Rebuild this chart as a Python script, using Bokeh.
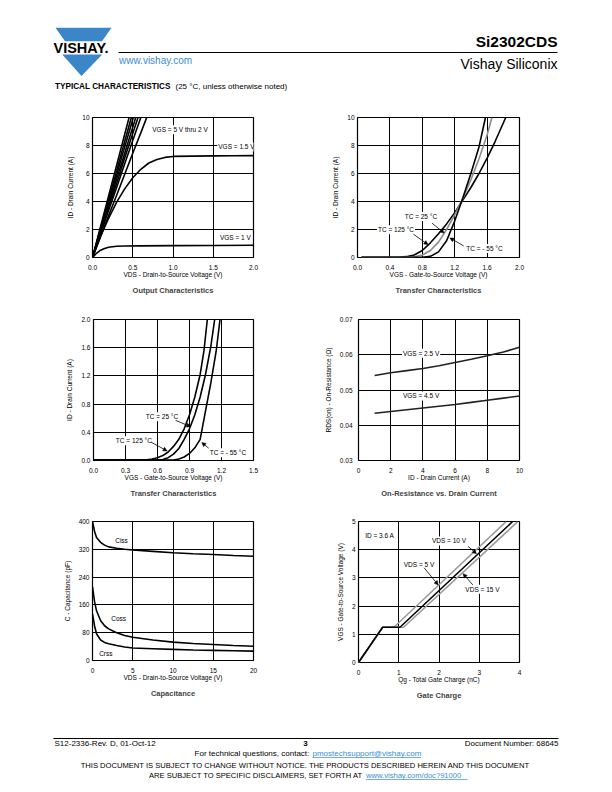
from bokeh.plotting import figure
from bokeh.layouts import column, row
from bokeh.models import (Range1d, FixedTicker, PrintfTickFormatter, Label, Arrow,
                          NormalHead, Title)
from bokeh.embed import file_html
from bokeh.resources import INLINE
from bokeh.core.properties import value

FONT = "Liberation Sans"
BLUE = "#3b86c8"
LINK = "#3a8dd6"

# ---------------- data ----------------
# Output characteristics (ID vs VDS)
out_vds_lin = [0, 0.1, 0.2, 0.3, 0.4, 0.5, 0.6, 0.7]
out_id_5v = [0, 2.2, 4.4, 6.6, 8.8, 11.0, 13.2, 15.4]
out_id_45v = [0, 2.1, 4.15, 6.2, 8.3, 10.35, 12.4, 14.5]
out_id_4v = [0, 2.0, 3.95, 5.9, 7.9, 9.85, 11.8, 13.8]
out_id_35v = [0, 1.9, 3.75, 5.6, 7.45, 9.3, 11.2, 13.0]
out_id_3v = [0, 1.8, 3.55, 5.3, 7.1, 8.85, 10.6, 12.4]
out_id_25v = [0, 1.7, 3.35, 5.0, 6.7, 8.35, 10.0, 11.7]
out_id_2v = [0, 1.5, 3.0, 4.45, 5.95, 7.45, 8.9, 10.4]
out_vds_15 = [0, 0.1, 0.2, 0.3, 0.4, 0.5, 0.6, 0.7, 0.8, 0.9, 1.0, 1.25, 1.5, 1.75, 2.0]
out_id_15v = [0, 1.5, 2.8, 3.95, 4.9, 5.7, 6.3, 6.75, 7.0, 7.15, 7.22, 7.24, 7.26, 7.27, 7.28]
out_vds_1 = [0, 0.05, 0.1, 0.15, 0.2, 0.3, 0.4, 0.6, 1.0, 1.5, 2.0]
out_id_1v = [0, 0.3, 0.52, 0.65, 0.73, 0.8, 0.82, 0.83, 0.85, 0.86, 0.88]

# Transfer characteristics, full scale
tr_vgs_125 = [0.05, 0.5, 0.6, 0.7, 0.8, 0.9, 1.0, 1.1, 1.2, 1.3, 1.4, 1.5, 1.6, 1.7, 1.83]
tr_id_125 = [0.02, 0.02, 0.06, 0.18, 0.5, 1.05, 1.7, 2.4, 3.2, 4.1, 5.0, 6.0, 7.1, 8.3, 10.0]
tr_vgs_25 = [0.05, 0.6, 0.7, 0.8, 0.9, 1.0, 1.1, 1.2, 1.3, 1.4, 1.5, 1.6, 1.66]
tr_id_25 = [0.02, 0.02, 0.05, 0.18, 0.5, 1.1, 2.0, 3.05, 4.2, 5.55, 7.05, 8.75, 10.0]
tr_vgs_m55 = [0.05, 0.8, 0.9, 1.0, 1.1, 1.2, 1.3, 1.4, 1.5, 1.58]
tr_id_m55 = [0.02, 0.02, 0.08, 0.4, 1.2, 2.6, 4.25, 6.0, 7.9, 10.0]

# Transfer characteristics, low current
lo_vgs_125 = [0.0, 0.45, 0.5, 0.55, 0.6, 0.65, 0.7, 0.75, 0.8, 0.85, 0.9, 0.95, 1.0, 1.035, 1.067]
lo_id_125 = [0.005, 0.005, 0.01, 0.02, 0.04, 0.07, 0.12, 0.2, 0.3, 0.45, 0.65, 0.9, 1.22, 1.55, 2.0]
lo_vgs_25 = [0.0, 0.6, 0.65, 0.7, 0.75, 0.8, 0.85, 0.9, 0.95, 1.0, 1.05, 1.1, 1.136]
lo_id_25 = [0.005, 0.005, 0.015, 0.04, 0.09, 0.17, 0.3, 0.45, 0.65, 0.9, 1.22, 1.62, 2.0]
lo_vgs_m55 = [0.0, 0.75, 0.8, 0.85, 0.9, 0.95, 1.0, 1.05, 1.1, 1.15, 1.186]
lo_id_m55 = [0.005, 0.005, 0.02, 0.05, 0.1, 0.18, 0.3, 0.7, 1.1, 1.55, 2.0]

# On-resistance vs drain current
rds_id = [1, 2, 3, 4, 5, 6, 7, 8, 9, 10]
rds_vgs25 = [0.0541, 0.0549, 0.0555, 0.0561, 0.0569, 0.0578, 0.0587, 0.0597, 0.0608, 0.0621]
rds_vgs45 = [0.0434, 0.0439, 0.0444, 0.0449, 0.0454, 0.0459, 0.0465, 0.0471, 0.0477, 0.0483]

# Capacitance
cap_vds = [0, 0.25, 0.5, 1, 1.5, 2, 3, 4, 5, 7.5, 10, 12.5, 15, 17.5, 20]
cap_ciss = [400, 372, 354, 340, 332, 327, 323, 320, 318, 314, 310, 307, 305, 302, 300]
cap_coss = [212, 170, 143, 115, 100, 91, 80, 72, 67, 59, 53, 49, 46, 43, 41]
cap_crss = [134, 100, 77, 59, 52, 48, 43, 39, 36, 34, 32, 30, 29, 28, 27]

# Gate charge
gc_qg_5 = [0, 0.6, 0.88, 3.67]
gc_vgs_5 = [0, 1.25, 1.25, 5.0]
gc_qg_10 = [0, 0.6, 1.03, 3.83]
gc_vgs_10 = [0, 1.25, 1.25, 5.0]
gc_qg_15 = [0, 0.6, 1.12, 3.96]
gc_vgs_15 = [0, 1.25, 1.25, 5.0]

# ticks
t_out_x = [0, 0.5, 1.0, 1.5, 2.0]
t_id10 = [0, 2, 4, 6, 8, 10]
t_tr_x = [0, 0.4, 0.8, 1.2, 1.6, 2.0]
t_lo_x = [0, 0.3, 0.6, 0.9, 1.2, 1.5]
t_lo_y = [0, 0.4, 0.8, 1.2, 1.6, 2.0]
t_rds_x = [0, 2, 4, 6, 8, 10]
t_rds_y = [0.03, 0.04, 0.05, 0.06, 0.07]
t_cap_x = [0, 5, 10, 15, 20]
t_cap_y = [0, 80, 160, 240, 320, 400]
t_gc_x = [0, 1, 2, 3, 4]
t_gc_y = [0, 1, 2, 3, 4, 5]


def chart(xr, yr, xt, yt, xf, yf, xl, yl, title, fw, fh, bl, br, bt, bb, ystand=3):
    p = figure(frame_width=fw, frame_height=fh, x_range=Range1d(*xr), y_range=Range1d(*yr),
               output_backend="svg", toolbar_location=None,
               min_border_left=bl, min_border_right=br, min_border_top=bt, min_border_bottom=bb)
    p.outline_line_color = "black"
    p.outline_line_width = 1.2
    p.outline_line_alpha = 1
    for ax, ticks, fmt, lab in ((p.xaxis[0], xt, xf, xl), (p.yaxis[0], yt, yf, yl)):
        ax.ticker = FixedTicker(ticks=ticks)
        ax.formatter = PrintfTickFormatter(format=fmt)
        ax.axis_line_color = None
        ax.major_tick_line_color = None
        ax.minor_tick_line_color = None
        ax.major_tick_out = 0
        ax.major_tick_in = 0
        ax.minor_tick_out = 0
        ax.minor_tick_in = 0
        ax.major_label_text_font = FONT
        ax.major_label_text_font_size = "6.5px"
        ax.major_label_text_color = "black"
        ax.axis_label = lab
        ax.axis_label_text_font = FONT
        ax.axis_label_text_font_size = "6.5px"
        ax.axis_label_text_font_style = "normal"
        ax.axis_label_text_color = "black"
    p.xaxis.major_label_standoff = 7
    p.xaxis.axis_label_standoff = -2
    p.yaxis.major_label_standoff = ystand
    p.yaxis.axis_label_standoff = 5
    p.grid.grid_line_color = "black"
    p.grid.grid_line_width = 1
    p.grid.grid_line_alpha = 1
    p.add_layout(Title(text=title, align="center", text_font=FONT, text_font_size="7.5px",
                       text_font_style="bold", standoff=7), "below")
    return p


def lab(p, x, y, text, bg=True, align="left"):
    p.add_layout(Label(x=x, y=y, text=text, text_font=FONT, text_font_size="6.5px",
                       text_baseline="middle", text_align=align, text_color="black",
                       background_fill_color="white" if bg else None, padding=1))


def arr(p, x0, y0, x1, y1):
    p.add_layout(Arrow(end=NormalHead(size=4, fill_color="black", line_color="black", line_width=0.5),
                       x_start=x0, y_start=y0, x_end=x1, y_end=y1, line_width=0.8, line_color="black"))


LW = 1.6

# 1 Output characteristics
p1 = chart((0, 2), (0, 10), t_out_x, t_id10, "%.1f", "%d",
           "VDS - Drain-to-Source Voltage (V)", "ID - Drain Current (A)",
           "Output Characteristics", 161, 140, 92, 45, 12, 48)
for ys in (out_id_5v, out_id_45v, out_id_4v, out_id_35v, out_id_3v, out_id_25v, out_id_2v):
    p1.line(out_vds_lin, ys, line_color="black", line_width=LW)
p1.line(out_vds_15, out_id_15v, line_color="black", line_width=LW)
p1.line(out_vds_1, out_id_1v, line_color="black", line_width=LW)
lab(p1, 0.73, 9.12, "VGS = 5 V thru 2 V")
lab(p1, 1.55, 7.9, "VGS = 1.5 V")
lab(p1, 1.57, 1.43, "VGS = 1 V")

# 2 Transfer characteristics
p2 = chart((0, 2), (0, 10), t_tr_x, t_id10, "%.1f", "%d",
           "VGS - Gate-to-Source Voltage (V)", "ID - Drain Current (A)",
           "Transfer Characteristics", 162, 140, 59, 77, 12, 48)
p2.line(tr_vgs_125, tr_id_125, line_color="black", line_width=LW)
p2.line(tr_vgs_25, tr_id_25, line_color="#8c8c8c", line_width=LW)
p2.line(tr_vgs_m55, tr_id_m55, line_color="black", line_width=LW)
lab(p2, 0.57, 2.93, "TC = 25 °C")
lab(p2, 0.24, 1.98, "TC = 125 °C")
lab(p2, 1.33, 0.64, "TC = - 55 °C")
arr(p2, 0.92, 2.45, 1.07, 1.75)
arr(p2, 0.69, 1.67, 0.87, 0.92)
arr(p2, 1.31, 0.83, 1.14, 1.4)

# 3 Transfer characteristics (low current)
p3 = chart((0, 1.5), (0, 2.0), t_lo_x, t_lo_y, "%.1f", "%.1f",
           "VGS - Gate-to-Source Voltage (V)", "ID - Drain Current (A)",
           "Transfer Characteristics", 160, 141, 93, 45, 13, 48)
p3.line(lo_vgs_125, lo_id_125, line_color="black", line_width=LW)
p3.line(lo_vgs_25, lo_id_25, line_color="black", line_width=LW)
p3.line(lo_vgs_m55, lo_id_m55, line_color="black", line_width=LW)
lab(p3, 0.48, 0.62, "TC = 25 °C")
lab(p3, 0.2, 0.28, "TC = 125 °C")
lab(p3, 1.08, 0.11, "TC = - 55 °C")
arr(p3, 0.77, 0.57, 0.91, 0.48)
arr(p3, 0.54, 0.26, 0.69, 0.135)
arr(p3, 1.08, 0.175, 1.015, 0.255)

# 4 On-resistance
p4 = chart((0, 10), (0.03, 0.07), t_rds_x, t_rds_y, "%d", "%.2f",
           "ID - Drain Current (A)", "RDS(on) - On-Resistance (Ω)",
           "On-Resistance vs. Drain Current", 161, 141, 60, 77, 14, 47, ystand=6)
p4.line(rds_id, rds_vgs25, line_color="#222222", line_width=LW)
p4.line(rds_id, rds_vgs45, line_color="#222222", line_width=LW)
lab(p4, 2.7, 0.0604, "VGS = 2.5 V")
lab(p4, 2.7, 0.0483, "VGS = 4.5 V")

# 5 Capacitance
p5 = chart((0, 20), (0, 400), t_cap_x, t_cap_y, "%d", "%d",
           "VDS - Drain-to-Source Voltage (V)", "C - Capacitance (pF)",
           "Capacitance", 161, 139, 92, 45, 14, 50)
p5.line(cap_vds, cap_ciss, line_color="black", line_width=LW)
p5.line(cap_vds, cap_coss, line_color="black", line_width=LW)
p5.line(cap_vds, cap_crss, line_color="black", line_width=LW)
lab(p5, 2.7, 346, "Ciss", bg=False)
lab(p5, 2.2, 121, "Coss", bg=False)
lab(p5, 0.7, 21, "Crss", bg=False)

# 6 Gate charge
p6 = chart((0, 4), (0, 5), t_gc_x, t_gc_y, "%d", "%d",
           "Qg - Total Gate Charge (nC)", "VGS - Gate-to-Source Voltage (V)",
           "Gate Charge", 161, 141, 60, 77, 13, 49)
p6.line(gc_qg_5, gc_vgs_5, line_color="#9a9a9a", line_width=LW)
p6.line(gc_qg_15, gc_vgs_15, line_color="#9a9a9a", line_width=LW)
p6.line(gc_qg_10, gc_vgs_10, line_color="black", line_width=LW)
lab(p6, 0.14, 4.5, "ID = 3.6 A", bg=False)
lab(p6, 1.8, 4.31, "VDS = 10 V")
lab(p6, 1.1, 3.48, "VDS = 5 V")
lab(p6, 2.63, 2.6, "VDS = 15 V")
arr(p6, 2.72, 4.12, 2.93, 3.86)
arr(p6, 1.63, 3.36, 1.98, 2.75)
arr(p6, 2.84, 2.75, 2.6, 3.15)


# ---------------- header / footer (page coordinates) ----------------
def blank(h, y0, y1):
    f = figure(width=596, height=h, x_range=Range1d(0, 596), y_range=Range1d(y1, y0),
               output_backend="svg", toolbar_location=None, x_axis_type=None, y_axis_type=None,
               min_border=0)
    f.outline_line_color = None
    return f


hdr = blank(105, 0, 105)
hdr.patches(xs=[[55, 111, 101.5, 64.5], [61.7, 101.7, 81]],
            ys=[[27.3, 27.3, 40.7, 40.7], [54, 54, 75.5]], fill_color=BLUE, line_color=None)
hdr.text(x=[53], y=[47.3], text=["VISHAY."], text_font=value(FONT), text_font_size="14.5px",
         text_font_style="bold", text_baseline="middle", text_color="black")
hdr.segment(x0=[118], y0=[52], x1=[557], y1=[52], line_color="black", line_width=1.2)
hdr.text(x=[118.5], y=[59.5], text=["www.vishay.com"], text_font=value(FONT),
         text_font_size="10px", text_baseline="middle", text_color=LINK)
hdr.text(x=[557], y=[40.7], text=["Si2302CDS"], text_font=value(FONT), text_font_size="15.5px",
         text_font_style="bold", text_baseline="middle", text_align="right", text_color="black")
hdr.text(x=[557], y=[63.3], text=["Vishay Siliconix"], text_font=value(FONT),
         text_font_size="14px", text_baseline="middle", text_align="right", text_color="black")
hdr.text(x=[54.5], y=[86], text=["TYPICAL CHARACTERISTICS"], text_font=value(FONT),
         text_font_size="8.2px", text_font_style="bold", text_baseline="middle", text_color="black")
hdr.text(x=[175], y=[86], text=["(25 °C, unless otherwise noted)"], text_font=value(FONT),
         text_font_size="8px", text_baseline="middle", text_color="black")

ftr = blank(74, 710, 784)
ftr.segment(x0=[53], y0=[738], x1=[558], y1=[738], line_color="black", line_width=1.2)
ftr.text(x=[54], y=[742.5], text=["S12-2336-Rev. D, 01-Oct-12"], text_font=value(FONT),
         text_font_size="8px", text_baseline="middle", text_color="black")
ftr.text(x=[305], y=[742.5], text=["3"], text_font=value(FONT), text_font_size="8px",
         text_font_style="bold", text_baseline="middle", text_align="center", text_color="black")
ftr.text(x=[558], y=[742.5], text=["Document Number: 68645"], text_font=value(FONT),
         text_font_size="8px", text_baseline="middle", text_align="right", text_color="black")
ftr.text(x=[311], y=[752.5], text=["For technical questions, contact: "], text_font=value(FONT),
         text_font_size="8px", text_baseline="middle", text_align="right", text_color="black")
ftr.text(x=[312], y=[752.5], text=["pmostechsupport@vishay.com"], text_font=value(FONT),
         text_font_size="8px", text_baseline="middle", text_color=LINK)
ftr.segment(x0=[312], y0=[757], x1=[420.5], y1=[757], line_color=LINK, line_width=0.7)
ftr.text(x=[305], y=[765], text=["THIS DOCUMENT IS SUBJECT TO CHANGE WITHOUT NOTICE. THE PRODUCTS DESCRIBED HEREIN AND THIS DOCUMENT"],
         text_font=value(FONT), text_font_size="7.6px", text_baseline="middle", text_align="center",
         text_color="black")
ftr.text(x=[364.5], y=[774.5], text=["ARE SUBJECT TO SPECIFIC DISCLAIMERS, SET FORTH AT "],
         text_font=value(FONT), text_font_size="7.6px", text_baseline="middle", text_align="right",
         text_color="black")
ftr.text(x=[365.5], y=[774.5], text=["www.vishay.com/doc?91000"], text_font=value(FONT),
         text_font_size="7.6px", text_baseline="middle", text_color=LINK)
ftr.segment(x0=[365.5], y0=[779], x1=[467], y1=[779], line_color=LINK, line_width=0.7)

layout = column(hdr, row(p1, p2), row(p3, p4), row(p5, p6), ftr)
open("out.html", "w").write(file_html(layout, INLINE, "Si2302CDS"))
